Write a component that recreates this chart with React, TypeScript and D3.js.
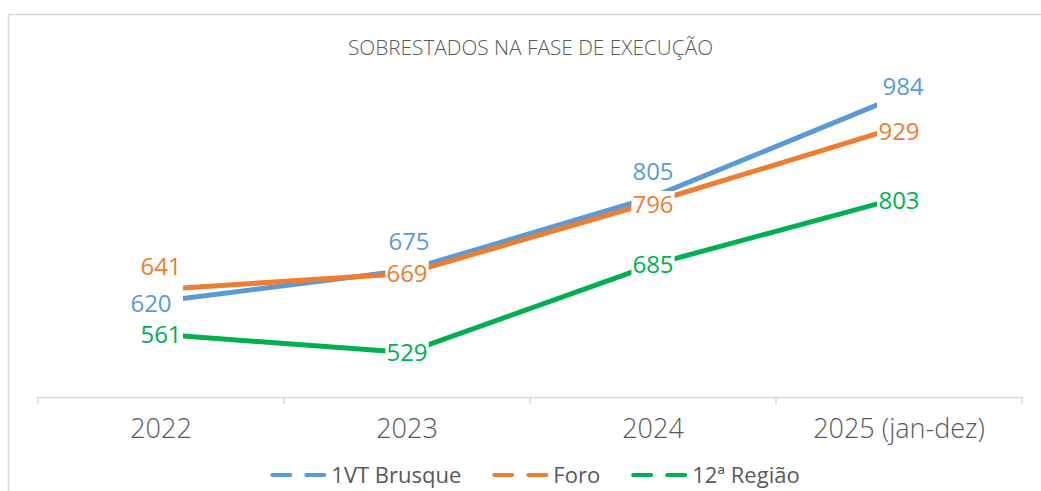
import React, { useEffect, useRef } from "react";
import * as d3 from "d3";

const categories = ["2022", "2023", "2024", "2025 (jan-dez)"];
const seriesNames = ["1VT Brusque", "Foro", "12ª Região"];
const brusqueValues = [620, 675, 805, 984];
const foroValues = [641, 669, 796, 929];
const regiaoValues = [561, 529, 685, 803];
const title = "SOBRESTADOS NA FASE DE EXECUÇÃO";

// label placement (style/layout only): offset of label centre from its point
const labelOffsets = [
  [[-10, 2.5], [2, -29], [0, -25], [4, -9.5]],
  [[0, -23], [0, 0], [0, 2], [0, 4]],
  [[0, 0], [0, 0], [0, 0], [0, 2.5]],
];
const colors = ["#5B9BD5", "#ED7D31", "#00B050"];

const W = 1041;
const H = 491;
const FONT = "'Open Sans', 'Noto Sans', sans-serif";

export default function App() {
  const ref = useRef<SVGSVGElement | null>(null);

  useEffect(() => {
    document.body.style.margin = "0";
    const svg = d3.select(ref.current);
    svg.selectAll("*").remove();

    const seriesValues = [brusqueValues, foroValues, regiaoValues];

    // chart frame
    svg.append("rect")
      .attr("x", 8.5).attr("y", 14.5)
      .attr("width", W + 50).attr("height", H + 50)
      .attr("fill", "#fff").attr("stroke", "#d9d9d9").attr("stroke-width", 1.5);

    // title
    svg.append("text")
      .attr("x", 530.5).attr("y", 55)
      .attr("text-anchor", "middle")
      .attr("font-family", FONT).attr("font-size", 20.8).attr("font-weight", 300)
      .attr("fill", "#595959")
      .text(title);

    const x = d3.scaleBand<string>().domain(categories).range([38, 1022]);
    const y = d3.scaleLinear().domain([450, 1000]).range([397, 87]);
    const cx = (c: string) => (x(c) as number) + x.bandwidth() / 2;

    // x axis
    const axisG = svg.append("g").attr("transform", `translate(0,397)`);
    const axis = d3.axisBottom(x).tickSize(0).tickPadding(0);
    axisG.call(axis as any);
    axisG.select(".domain").attr("stroke", "#d9d9d9").attr("stroke-width", 1.5);
    axisG.selectAll(".tick text")
      .attr("y", 41).attr("dy", 0)
      .attr("font-family", FONT).attr("font-size", 27).attr("font-weight", 300)
      .attr("fill", "#595959");
    const boundaries = [...categories.map((c) => x(c) as number), x.range()[1]];
    axisG.selectAll(".bnd").data(boundaries).enter().append("line")
      .attr("x1", (d) => d).attr("x2", (d) => d)
      .attr("y1", 0).attr("y2", 7)
      .attr("stroke", "#d9d9d9").attr("stroke-width", 1.5);

    // lines
    const endInset = 22;
    const clipId = "lineclip";
    svg.append("defs").append("clipPath").attr("id", clipId)
      .append("rect")
      .attr("x", cx(categories[0]) + endInset)
      .attr("y", 0)
      .attr("width", cx(categories[categories.length - 1]) - cx(categories[0]) - 2 * endInset)
      .attr("height", H);

    const line = d3.line<number>()
      .x((_, i) => cx(categories[i]))
      .y((d) => y(d));

    const linesG = svg.append("g").attr("clip-path", `url(#${clipId})`);
    seriesValues.forEach((vals, s) => {
      linesG.append("path")
        .attr("d", line(vals) as string)
        .attr("fill", "none")
        .attr("stroke", colors[s])
        .attr("stroke-width", 5)
        .attr("stroke-linejoin", "round");
    });

    // data labels with white backgrounds
    const labelG = svg.append("g");
    const fs = 24;
    seriesValues.forEach((vals, s) => {
      vals.forEach((v, i) => {
        const [dx, dy] = labelOffsets[s][i];
        const px = cx(categories[i]) + dx;
        const py = y(v) + dy;
        const g = labelG.append("g");
        const rect = g.append("rect").attr("fill", "#fff");
        const t = g.append("text")
          .attr("x", px).attr("y", py + fs * 0.357)
          .attr("text-anchor", "middle")
          .attr("font-family", FONT).attr("font-size", fs)
          .attr("fill", colors[s])
          .text(String(v));
        const w = (t.node() as SVGTextElement).getComputedTextLength();
        rect.attr("x", px - w / 2 - 1).attr("y", py - 13)
          .attr("width", w + 2).attr("height", 26);
      });
    });

    // legend
    const legendG = svg.append("g");
    const legFs = 22;
    const symW = 56;
    const symGap = 5;
    const itemGap = 31;
    let cursor = 0;
    seriesNames.forEach((name, s) => {
      const g = legendG.append("g").attr("transform", `translate(${cursor},0)`);
      g.append("line")
        .attr("x1", 2).attr("x2", symW - 2)
        .attr("y1", 0).attr("y2", 0)
        .attr("stroke", colors[s]).attr("stroke-width", 4)
        .attr("stroke-linecap", "round")
        .attr("stroke-dasharray", "18,16");
      const t = g.append("text")
        .attr("x", symW + symGap).attr("y", legFs * 0.36)
        .attr("font-family", FONT).attr("font-size", legFs)
        .attr("fill", "#595959")
        .text(name);
      const tw = (t.node() as SVGTextElement).getComputedTextLength();
      cursor += symW + symGap + tw + itemGap;
    });
    const total = cursor - itemGap;
    legendG.attr("transform", `translate(${535 - total / 2},475)`);
  }, []);

  return <svg ref={ref} width={W} height={H} style={{ display: "block" }} />;
}
